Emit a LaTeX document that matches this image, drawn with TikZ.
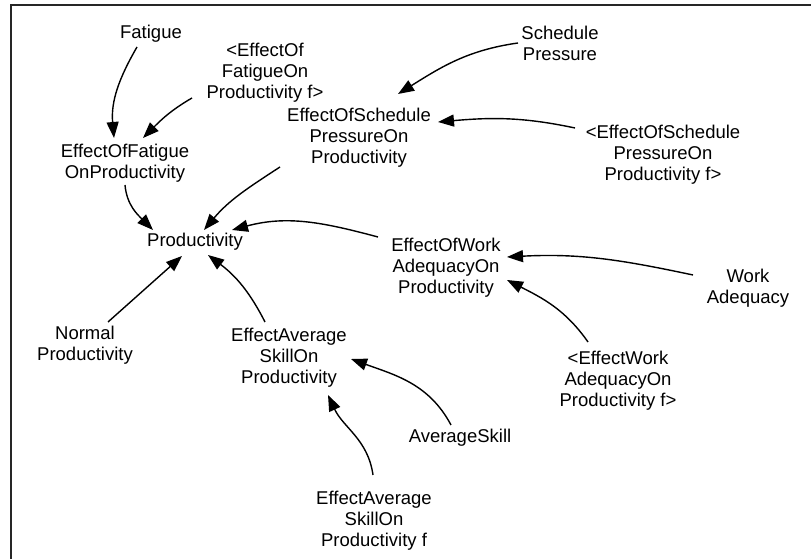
\documentclass[tikz,border=0pt]{standalone}
\usepackage{fontspec}
\setmainfont{Liberation Sans}
\usetikzlibrary{arrows.meta}
\begin{document}
\begin{tikzpicture}[x=1pt,y=1pt,
  var/.style={inner sep=0pt, align=center, font=\fontsize{18.5}{21}\selectfont},
  arr/.style={line width=1.4pt, -{Triangle[length=16pt,width=12pt]}}]
\useasboundingbox (0,0) rectangle (811,559);
\draw[line width=2pt, black!85] (10.5,0) -- (10.5,554) -- (811,554);
% variables
\node[var] (fat)   at (151,525) {Fatigue};
\node[var] (eofF)  at (265,486) {<EffectOf\\FatigueOn\\Productivity f>};
\node[var] (eoff)  at (125,396) {EffectOfFatigue\\OnProductivity};
\node[var] (eosp)  at (359,421) {EffectOfSchedule\\PressureOn\\Productivity};
\node[var] (sp)    at (560,516) {Schedule\\Pressure};
\node[var] (eospf) at (663,404) {<EffectOfSchedule\\PressureOn\\Productivity f>};
\node[var] (prod)  at (195,317) {Productivity};
\node[var] (eowa)  at (446,291) {EffectOfWork\\AdequacyOn\\Productivity};
\node[var] (wa)    at (748,271) {Work\\Adequacy};
\node[var] (norm)  at (85,214)  {Normal\\Productivity};
\node[var] (eas)   at (289,201) {EffectAverage\\SkillOn\\Productivity};
\node[var] (eowaf) at (618,178) {<EffectWork\\AdequacyOn\\Productivity f>};
\node[var] (as)    at (460,121) {AverageSkill};
\node[var] (easf)  at (374,38)  {EffectAverage\\SkillOn\\Productivity f};
% links
\draw[arr] ([shift={(-14,-13)}]fat.center) to[out=240,in=95] ([shift={(-11,25)}]eoff.center);
\draw[arr] ([shift={(-73,-25)}]eofF.center) to[out=210,in=45] ([shift={(18,25)}]eoff.center);
\draw[arr] ([shift={(0,-22)}]eoff.center) to[out=275,in=135] ([shift={(-42,12)}]prod.center);
\draw[arr] ([shift={(-79,-29)}]eosp.center) to[out=213,in=50] ([shift={(9,12)}]prod.center);
\draw[arr] ([shift={(-68,31)}]eowa.center) to[out=165,in=15] ([shift={(37,12)}]prod.center);
\draw[arr] ([shift={(23,23)}]norm.center) -- ([shift={(-13,-14)}]prod.center);
\draw[arr] ([shift={(-24,36)}]eas.center) to[out=117,in=-37] ([shift={(13,-13)}]prod.center);
\draw[arr] ([shift={(-42,0)}]sp.center) to[out=188,in=32] ([shift={(39,44)}]eosp.center);
\draw[arr] ([shift={(-88,27)}]eospf.center) to[out=168,in=5] ([shift={(79,16)}]eosp.center);
\draw[arr] ([shift={(-55,13)}]wa.center) to[out=168,in=3] ([shift={(61,11)}]eowa.center);
\draw[arr] ([shift={(-30,39)}]eowaf.center) to[out=125,in=-27] ([shift={(61,-12)}]eowa.center);
\draw[arr] ([shift={(-9,13)}]as.center) to[out=118,in=-20] ([shift={(62,-1)}]eas.center);
\draw[arr] ([shift={(-1,46)}]easf.center) to[out=98,in=-65] ([shift={(39,-37)}]eas.center);
\end{tikzpicture}
\end{document}
